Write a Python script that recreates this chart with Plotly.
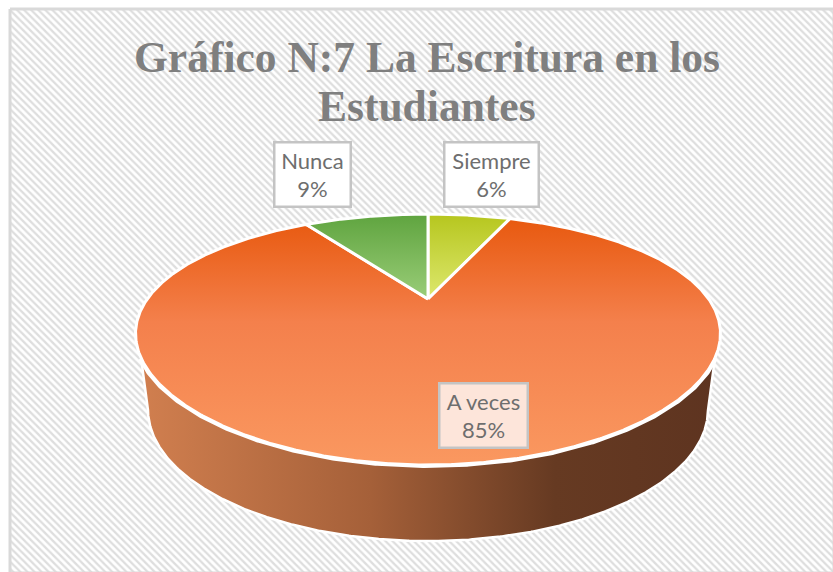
import numpy as np
import plotly.graph_objects as go

title_lines = ["Gráfico N:7 La Escritura en los", "Estudiantes"]
categories = ["Siempre", "A veces", "Nunca"]
values = [6, 85, 9]
top_colors = [
    [[0, "#B6C61E"], [1, "#DDE86E"]],
    [[0, "#E8590F"], [0.42, "#F4804C"], [1, "#FA9860"]],
    [[0, "#5FA43F"], [1, "#9ACD78"]],
]
wall_stops = [[0, "#D17F4F"], [0.4, "#A56039"], [0.72, "#663A22"], [1, "#5E3420"]]
label_centers = [(491.5, 174.5), (483, 415.5), (312, 174.5)]
label_widths = [92, 86, 74]
label_bg = ["#FFFFFF", "#FDE5DA", "#FFFFFF"]

W, H = 833, 572
CX = 428


def project(t, cy, A, B, k, kx):
    u, v = np.sin(t), np.cos(t)
    return CX + A * u / (1 + kx * v), cy - B * v / (1 + k * v)


TOP = dict(cy=299, A=280.8, B=112.4, k=0.3227, kx=0.28)
BOTTOM = dict(cy=367.7, A=265.0, B=117.4, k=0.3227, kx=0.3227)

fig = go.Figure()

# patterned chart area
fig.add_trace(go.Scatter(
    x=[10, 834, 834, 10, 10], y=[9, 9, 573, 573, 9], mode="lines", fill="toself",
    line=dict(color="#D9D9D9", width=3), fillcolor="#FFFFFF",
    fillpattern=dict(shape="\\", size=5, solidity=0.45, fgcolor="#DEDEDE", bgcolor="#FFFFFF", fillmode="replace"),
    hoverinfo="skip", showlegend=False))

# side wall
tt = np.linspace(0, 2 * np.pi, 1441)
ux, uy = project(tt, **TOP)
lx, ly = project(tt, **BOTTOM)
front_u = np.where(uy >= 358)[0]
front_l = np.where(ly >= 410)[0]
ou = front_u[np.argsort(ux[front_u])]
ol = front_l[np.argsort(lx[front_l])][::-1]
wx = np.r_[ux[ou], lx[ol], ux[ou][0]]
wy = np.r_[uy[ou], ly[ol], uy[ou][0]]
fig.add_trace(go.Scatter(
    x=wx, y=wy, mode="lines", fill="toself", line=dict(color="#FFFFFF", width=2.5),
    fillgradient=dict(type="horizontal", colorscale=wall_stops, start=140, stop=716),
    hoverinfo="skip", showlegend=False))
# thick light rim between the wall and the top face
fig.add_trace(go.Scatter(
    x=ux[ou], y=uy[ou], mode="lines", line=dict(color="#FFFFFF", width=6),
    hoverinfo="skip", showlegend=False))

# top face slices, computed from the values
total = sum(values)
start = 0.0
for cat, val, cols in zip(categories, values, top_colors):
    a0 = start / total * 2 * np.pi
    a1 = (start + val) / total * 2 * np.pi
    start += val
    t = np.linspace(a0, a1, max(int(val * 12), 40))
    x, y = project(t, **TOP)
    px = np.r_[CX, x, CX]
    py = np.r_[TOP["cy"], y, TOP["cy"]]
    fig.add_trace(go.Scatter(
        x=px, y=py, mode="lines", fill="toself", name=cat,
        line=dict(color="#FFFFFF", width=3),
        fillgradient=dict(type="vertical", colorscale=cols,
                          start=float(py.min()), stop=float(py.max())),
        hoverinfo="skip", showlegend=False))

for cat, val, (lx0, ly0), wd, bg in zip(categories, values, label_centers, label_widths, label_bg):
    fig.add_annotation(
        x=lx0, y=ly0, xref="x", yref="y", text=f"{cat}<br>{val}%", showarrow=False,
        width=wd, height=62, bgcolor=bg, bordercolor="#C4C4C4", borderwidth=2.5, borderpad=0,
        font=dict(family="Lato", size=22, color="#6E6E6E"), align="center", valign="middle")

# second title line: placed separately to keep the tight leading of the original
fig.add_annotation(
    x=427, y=106, xref="x", yref="y", text="<b>" + title_lines[1] + "</b>", showarrow=False,
    font=dict(family="Liberation Serif", size=43.5, color="#7F7F7F"), align="center")

fig.update_layout(
    width=W, height=H, margin=dict(l=0, r=0, t=0, b=0), paper_bgcolor="#FFFFFF", plot_bgcolor="#FFFFFF",
    title=dict(text="<b>" + title_lines[0] + "</b>", x=427 / W, xanchor="center", y=1 - 57 / H, yanchor="middle",
               font=dict(family="Liberation Serif", size=43.5, color="#7F7F7F")),
    xaxis=dict(range=[0, W], visible=False, fixedrange=True),
    yaxis=dict(range=[H, 0], visible=False, fixedrange=True),
    showlegend=False)

fig.write_html("out.html", config=dict(displayModeBar=False),
               post_script="document.body.style.margin='0';")
